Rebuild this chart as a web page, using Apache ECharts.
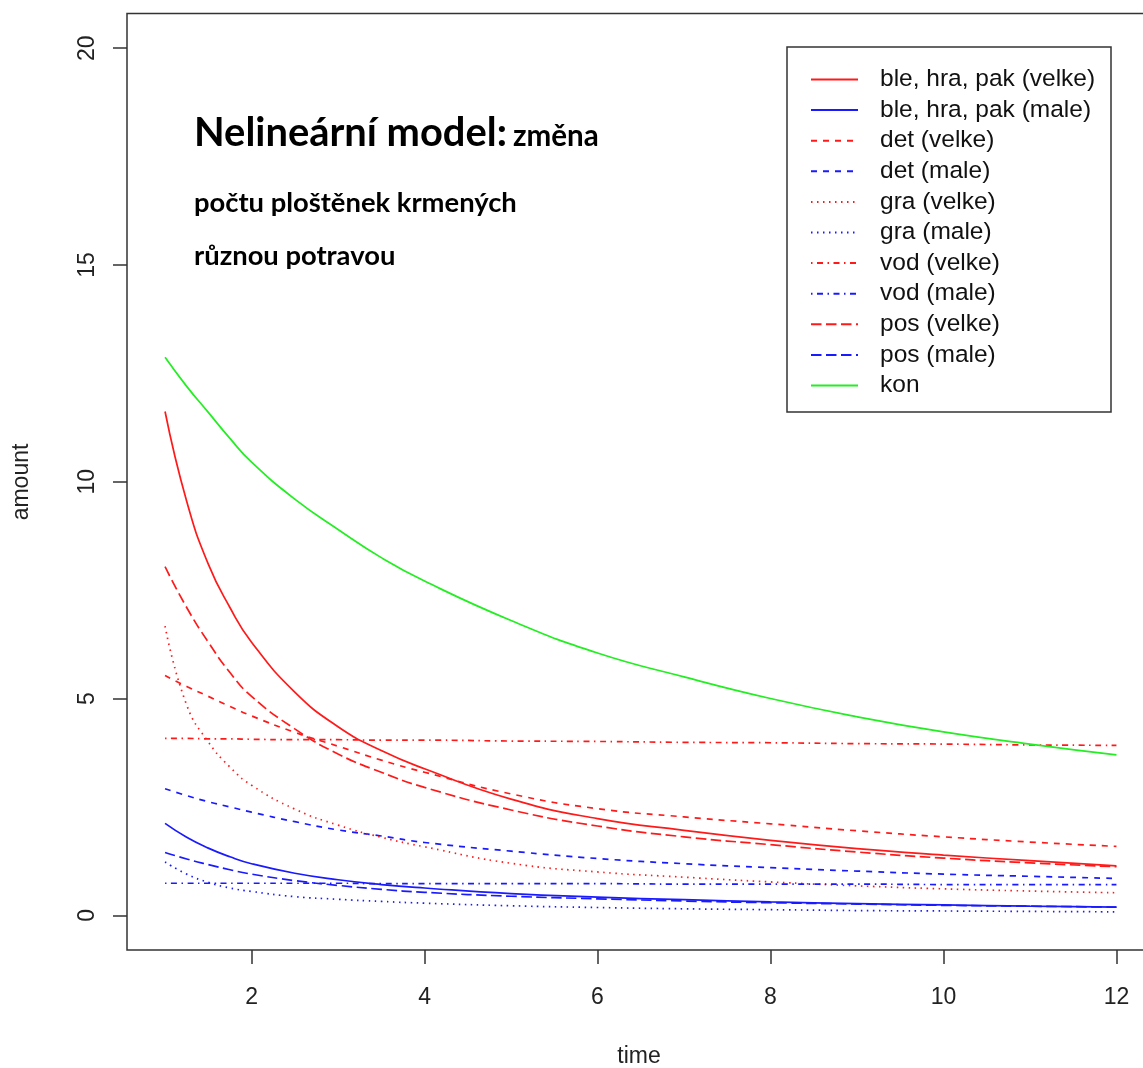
<!DOCTYPE html>
<html><head><meta charset="utf-8">
<script src="https://cdn.jsdelivr.net/npm/echarts@6/dist/echarts.min.js"></script>
<style>html,body{margin:0;padding:0;background:#fff;overflow:hidden}#c{width:1160px;height:1068px}</style>
</head><body><div id="c"></div>
<script>
// ---- data ----
const time      = [1, 1.25, 1.5, 1.75, 2, 2.5, 3, 3.5, 4, 5, 6, 7, 8, 9, 10, 11, 12];
const bleVelke  = [11.62, 9.55, 8.1, 7.1, 6.3, 5.15, 4.35, 3.8, 3.38, 2.68, 2.23, 1.96, 1.73, 1.54, 1.39, 1.26, 1.14];
const bleMale   = [2.12, 1.8, 1.55, 1.35, 1.19, 0.97, 0.82, 0.71, 0.63, 0.5, 0.42, 0.36, 0.31, 0.27, 0.24, 0.21, 0.19];
const detVelke  = [5.53, 5.28, 5.05, 4.82, 4.6, 4.22, 3.9, 3.58, 3.3, 2.8, 2.46, 2.27, 2.11, 1.95, 1.81, 1.69, 1.59];
const detMale   = [2.92, 2.76, 2.62, 2.5, 2.38, 2.16, 1.97, 1.83, 1.68, 1.48, 1.31, 1.19, 1.1, 1.02, 0.95, 0.9, 0.85];
const graVelke  = [6.67, 4.85, 4.0, 3.42, 3.0, 2.45, 2.08, 1.8, 1.58, 1.2, 1.0, 0.88, 0.77, 0.68, 0.61, 0.56, 0.52];
const graMale   = [1.23, 0.95, 0.76, 0.63, 0.55, 0.43, 0.37, 0.32, 0.28, 0.22, 0.18, 0.15, 0.13, 0.11, 0.1, 0.09, 0.08];
const vodVelke  = [4.08, 4.08, 4.07, 4.07, 4.06, 4.05, 4.05, 4.04, 4.04, 4.02, 4.01, 3.99, 3.98, 3.96, 3.95, 3.93, 3.92];
const vodMale   = [0.74, 0.74, 0.74, 0.74, 0.74, 0.74, 0.74, 0.73, 0.73, 0.73, 0.73, 0.72, 0.72, 0.72, 0.71, 0.71, 0.71];
const posVelke  = [8.04, 7.1, 6.3, 5.6, 5.05, 4.3, 3.72, 3.3, 2.95, 2.43, 2.06, 1.81, 1.63, 1.46, 1.32, 1.21, 1.12];
const posMale   = [1.45, 1.3, 1.17, 1.05, 0.95, 0.8, 0.69, 0.6, 0.53, 0.44, 0.38, 0.33, 0.29, 0.26, 0.23, 0.21, 0.19];
const kon       = [12.87, 12.2, 11.6, 11.0, 10.45, 9.6, 8.9, 8.25, 7.71, 6.8, 6.05, 5.5, 5.0, 4.58, 4.23, 3.95, 3.70];

const xTicks = [2, 4, 6, 8, 10, 12];
const yTicks = [0, 5, 10, 15, 20];

const seriesNames = ['ble, hra, pak (velke)', 'ble, hra, pak (male)', 'det (velke)', 'det (male)',
  'gra (velke)', 'gra (male)', 'vod (velke)', 'vod (male)', 'pos (velke)', 'pos (male)', 'kon'];
const seriesValues = [bleVelke, bleMale, detVelke, detMale, graVelke, graMale, vodVelke, vodMale, posVelke, posMale, kon];

// ---- styles ----
const RED = '#ff1a1a', BLUE = '#1a1aff', GREEN = '#22ee22';
const colors = [RED, BLUE, RED, BLUE, RED, BLUE, RED, BLUE, RED, BLUE, GREEN];
const DASH = [6, 6], DOT = [1.5, 4.5], DOTDASH = [1.5, 4.5, 6, 4.5], LONG = [10.5, 4.5];
const dashes = ['solid', 'solid', DASH, DASH, DOT, DOT, DOTDASH, DOTDASH, LONG, LONG, 'solid'];

function fitSize(text, family, weight, target) {
  const ctx = document.createElement('canvas').getContext('2d');
  ctx.font = weight + ' 100px ' + family;
  return 100 * target / ctx.measureText(text).width;
}
const TF = 'Lato';
const bigSize = fitSize('Nelineární model:', TF, 'bold', 313);
const smallSize = fitSize('počtu ploštěnek krmených', TF, 'bold', 323);

const series = seriesNames.map((n, i) => ({
  name: n,
  type: 'line',
  data: time.map((t, k) => [t, seriesValues[i][k]]),
  smooth: 0.5,
  symbol: 'none',
  color: colors[i],
  lineStyle: { color: colors[i], width: 1.7, type: dashes[i], cap: 'butt' },
  emphasis: { disabled: true },
  animation: false
}));

const chart = echarts.init(document.getElementById('c'), null, { renderer: 'canvas' });
const axisFont = 'Liberation Sans';
chart.setOption({
  animation: false,
  backgroundColor: '#fff',
  grid: { left: 127, right: 5.5, top: 13.5, bottom: 118, show: true, borderColor: '#333', borderWidth: 1.5, backgroundColor: 'transparent' },
  xAxis: {
    type: 'value', min: 0.56, max: 12.44,
    splitLine: { show: false },
    axisLine: { show: false, onZero: false },
    axisTick: { show: true, inside: false, length: 14, lineStyle: { color: '#333', width: 1.5 }, customValues: xTicks },
    axisLabel: { show: true, customValues: xTicks, margin: 36, fontSize: 23, color: '#222', fontFamily: axisFont }
  },
  yAxis: {
    type: 'value', min: -0.8, max: 20.8,
    splitLine: { show: false },
    axisLine: { show: false, onZero: false },
    axisTick: { show: true, inside: false, length: 14, lineStyle: { color: '#333', width: 1.5 }, customValues: yTicks },
    axisLabel: { show: true, customValues: yTicks, rotate: 90, margin: 28, fontSize: 23, color: '#222', fontFamily: axisFont }
  },
  legend: {
    orient: 'vertical', left: 810, top: 67, padding: 0,
    itemWidth: 47, itemHeight: 24, itemGap: 5.6,
    icon: 'inherit',
    itemStyle: { opacity: 0 },
    selectedMode: false,
    data: seriesNames,
    textStyle: { fontFamily: axisFont, fontSize: 24.5, lineHeight: 24, color: '#111', padding: [0, 0, 0, 17] }
  },
  graphic: [
    { type: 'rect', shape: { x: 787, y: 47, width: 324, height: 365 }, style: { fill: 'none', stroke: '#333', lineWidth: 1.5 }, z: 10 },
    { type: 'text', x: 194, y: 146 - 0.32 * bigSize, style: { text: 'Nelineární model:', fontFamily: TF, fontWeight: 'bold', fontSize: bigSize, fill: '#000', verticalAlign: 'middle' }, z: 10 },
    { type: 'text', x: 513, y: 146 - 0.32 * smallSize * 1.08, style: { text: 'změna', fontFamily: TF, fontWeight: 'bold', fontSize: smallSize * 1.08, fill: '#000', verticalAlign: 'middle' }, z: 10 },
    { type: 'text', x: 194, y: 212 - 0.32 * smallSize, style: { text: 'počtu ploštěnek krmených', fontFamily: TF, fontWeight: 'bold', fontSize: smallSize, fill: '#000', verticalAlign: 'middle' }, z: 10 },
    { type: 'text', x: 194, y: 265 - 0.32 * smallSize, style: { text: 'různou potravou', fontFamily: TF, fontWeight: 'bold', fontSize: smallSize, fill: '#000', verticalAlign: 'middle' }, z: 10 },
    { type: 'text', x: 22, y: 482, rotation: Math.PI / 2, style: { text: 'amount', fontFamily: axisFont, fontSize: 23, fill: '#222', align: 'center', verticalAlign: 'middle' }, z: 10 },
    { type: 'text', x: 639, y: 1057, style: { text: 'time', fontFamily: axisFont, fontSize: 23, fill: '#222', align: 'center', verticalAlign: 'middle' }, z: 10 }
  ],
  series: series
});
</script></body></html>
